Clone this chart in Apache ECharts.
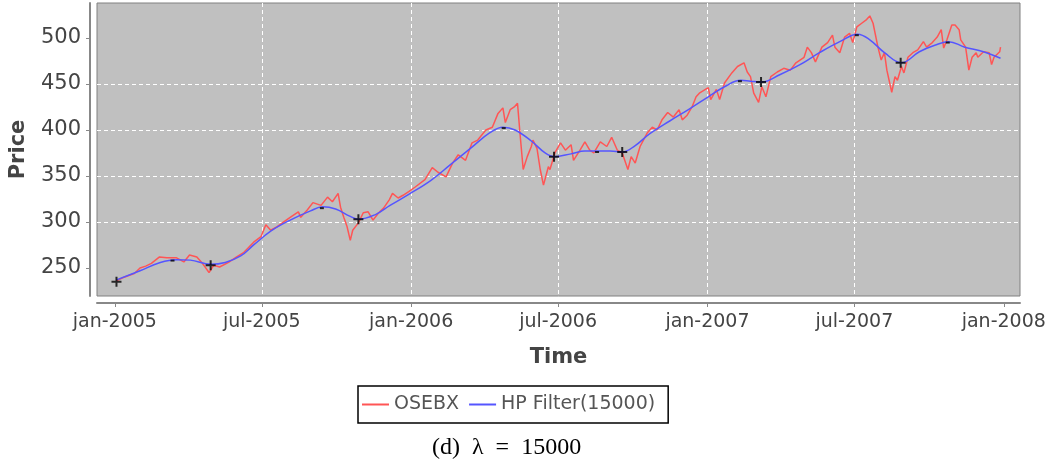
<!DOCTYPE html>
<html>
<head>
<meta charset="utf-8">
<script src="https://cdn.jsdelivr.net/npm/echarts@6.0.0/dist/echarts.min.js"></script>
<style>
  html, body { margin: 0; padding: 0; background: #fff; }
  #chart { width: 1053px; height: 469px; }
</style>
</head>
<body>
<div id="chart"></div>
<script>
// OSEBX closing prices (date, price)
const osebx = [
  ['2005-01-03', 236], ['2005-01-10', 239], ['2005-01-19', 242], ['2005-01-25', 244],
  ['2005-02-01', 250], ['2005-02-08', 252], ['2005-02-15', 255], ['2005-02-25', 262],
  ['2005-03-06', 261], ['2005-03-18', 261], ['2005-03-27', 256.5], ['2005-04-03', 264],
  ['2005-04-12', 262], ['2005-04-18', 256], ['2005-04-27', 245], ['2005-05-03', 253],
  ['2005-05-10', 251], ['2005-05-21', 256], ['2005-05-31', 262], ['2005-06-09', 267],
  ['2005-06-21', 278], ['2005-06-30', 284], ['2005-07-06', 297], ['2005-07-12', 291],
  ['2005-07-20', 295], ['2005-07-28', 300], ['2005-08-05', 305], ['2005-08-15', 311],
  ['2005-08-18', 305], ['2005-08-26', 313], ['2005-09-02', 321], ['2005-09-12', 318],
  ['2005-09-20', 327], ['2005-09-26', 322], ['2005-10-03', 331], ['2005-10-06', 316],
  ['2005-10-10', 305], ['2005-10-14', 295], ['2005-10-18', 280], ['2005-10-21', 291],
  ['2005-10-28', 299], ['2005-11-03', 310], ['2005-11-09', 311], ['2005-11-15', 302],
  ['2005-11-22', 310], ['2005-11-28', 315], ['2005-12-05', 324], ['2005-12-09', 331],
  ['2005-12-16', 326], ['2005-12-22', 329], ['2005-12-29', 333],
  ['2006-01-06', 338], ['2006-01-18', 346], ['2006-01-27', 359], ['2006-02-03', 354],
  ['2006-02-13', 349], ['2006-02-21', 364], ['2006-02-28', 373], ['2006-03-09', 367],
  ['2006-03-17', 386], ['2006-03-24', 389], ['2006-04-03', 400], ['2006-04-11', 403],
  ['2006-04-18', 418], ['2006-04-24', 424], ['2006-04-27', 408], ['2006-05-03', 422],
  ['2006-05-08', 425], ['2006-05-12', 429], ['2006-05-15', 397], ['2006-05-19', 357],
  ['2006-05-24', 371], ['2006-05-29', 382], ['2006-05-31', 389], ['2006-06-05', 380],
  ['2006-06-09', 357], ['2006-06-13', 340], ['2006-06-19', 360], ['2006-06-21', 357],
  ['2006-06-27', 375], ['2006-07-04', 386], ['2006-07-10', 378], ['2006-07-17', 384],
  ['2006-07-20', 367], ['2006-07-28', 378], ['2006-08-03', 387], ['2006-08-09', 378],
  ['2006-08-14', 375], ['2006-08-22', 387], ['2006-08-30', 382], ['2006-09-05', 392],
  ['2006-09-12', 378], ['2006-09-18', 375], ['2006-09-25', 357], ['2006-09-29', 371],
  ['2006-10-04', 364], ['2006-10-10', 382], ['2006-10-19', 397], ['2006-10-25', 403],
  ['2006-10-31', 400], ['2006-11-06', 411], ['2006-11-13', 419], ['2006-11-20', 414],
  ['2006-11-27', 422], ['2006-12-01', 411], ['2006-12-07', 416], ['2006-12-13', 425],
  ['2006-12-18', 436], ['2006-12-22', 440],
  ['2007-01-02', 446], ['2007-01-05', 433], ['2007-01-12', 444], ['2007-01-16', 433],
  ['2007-01-22', 451], ['2007-01-31', 462], ['2007-02-07', 469], ['2007-02-15', 473],
  ['2007-02-19', 463], ['2007-02-23', 458], ['2007-02-27', 440], ['2007-03-05', 430],
  ['2007-03-09', 447], ['2007-03-14', 436], ['2007-03-20', 458], ['2007-03-28', 463],
  ['2007-04-05', 467], ['2007-04-13', 465], ['2007-04-20', 473], ['2007-04-30', 479],
  ['2007-05-04', 490], ['2007-05-09', 484], ['2007-05-14', 474], ['2007-05-22', 490],
  ['2007-05-29', 495], ['2007-06-04', 503], ['2007-06-07', 490], ['2007-06-13', 484],
  ['2007-06-19', 501], ['2007-06-25', 505], ['2007-06-29', 495], ['2007-07-04', 512],
  ['2007-07-10', 516], ['2007-07-16', 520], ['2007-07-20', 524], ['2007-07-24', 516],
  ['2007-07-30', 490], ['2007-08-03', 476], ['2007-08-07', 484], ['2007-08-10', 465],
  ['2007-08-16', 441], ['2007-08-20', 458], ['2007-08-23', 454], ['2007-08-28', 469],
  ['2007-08-31', 462], ['2007-09-05', 479], ['2007-09-11', 484], ['2007-09-17', 487],
  ['2007-09-24', 496], ['2007-09-28', 490], ['2007-10-05', 495], ['2007-10-11', 501],
  ['2007-10-16', 509], ['2007-10-19', 489], ['2007-10-23', 498], ['2007-10-29', 514],
  ['2007-11-02', 514], ['2007-11-07', 509], ['2007-11-09', 498], ['2007-11-15', 490],
  ['2007-11-19', 465], ['2007-11-23', 479], ['2007-11-28', 484], ['2007-11-30', 479],
  ['2007-12-07', 485], ['2007-12-14', 484], ['2007-12-17', 471], ['2007-12-20', 479],
  ['2007-12-27', 485], ['2007-12-28', 490]
];

// HP filter trend (lambda 15000)
const hpFilter = [
  ['2005-01-03', 237], ['2005-02-01', 247], ['2005-02-26', 256], ['2005-03-18', 259],
  ['2005-04-04', 258.5], ['2005-04-29', 254], ['2005-05-17', 256], ['2005-06-05', 263],
  ['2005-06-21', 275], ['2005-07-12', 290], ['2005-08-05', 302], ['2005-08-30', 312],
  ['2005-09-14', 316.5], ['2005-09-30', 314], ['2005-10-18', 306], ['2005-10-28', 303],
  ['2005-11-18', 308], ['2005-12-06', 318], ['2005-12-29', 330], ['2006-01-25', 345],
  ['2006-02-18', 362], ['2006-03-15', 380], ['2006-04-08', 397], ['2006-04-24', 403],
  ['2006-05-09', 400], ['2006-05-29', 388], ['2006-06-15', 375], ['2006-06-26', 371],
  ['2006-07-17', 374], ['2006-08-03', 377], ['2006-08-18', 377], ['2006-09-03', 377],
  ['2006-09-18', 376], ['2006-10-04', 383], ['2006-10-22', 396], ['2006-11-16', 410],
  ['2006-12-10', 423], ['2007-01-02', 436], ['2007-01-22', 447], ['2007-02-11', 454],
  ['2007-02-23', 453], ['2007-03-09', 452], ['2007-03-31', 460], ['2007-04-25', 471],
  ['2007-05-19', 484], ['2007-06-13', 496], ['2007-07-05', 504], ['2007-07-20', 498],
  ['2007-08-07', 484], ['2007-08-28', 473], ['2007-09-19', 485], ['2007-10-08', 492],
  ['2007-10-25', 496], ['2007-11-14', 490], ['2007-12-07', 485], ['2007-12-28', 478]
];

// turning points of the trend: troughs (+) and peaks (-)
const troughs = [
  ['2005-01-03', 235], ['2005-04-29', 253], ['2005-10-28', 303], ['2006-06-26', 371],
  ['2006-09-18', 376], ['2007-03-08', 452], ['2007-08-27', 473]
];
const peaks = [
  ['2005-03-13', 258], ['2005-09-13', 315], ['2006-04-25', 402], ['2006-08-18', 376],
  ['2007-02-10', 453], ['2007-07-04', 503], ['2007-10-24', 495]
];

const yTicks = [250, 300, 350, 400, 450, 500];
const xTicks = ['2005-01-01', '2005-07-01', '2006-01-01', '2006-07-01', '2007-01-01', '2007-07-01', '2008-01-01'];
const months = ['jan', 'feb', 'mar', 'apr', 'mai', 'jun', 'jul', 'aug', 'sep', 'okt', 'nov', 'des'];

function ts(d) { return new Date(d + 'T00:00:00Z').getTime(); }
function toPoints(list) { return list.map(p => [ts(p[0]), p[1]]); }

const xTickTimes = xTicks.map(ts);

const chart = echarts.init(document.getElementById('chart'));

const option = {
  animation: false,
  textStyle: { fontFamily: 'DejaVu Sans' },
  grid: {
    left: 96, right: 33, top: 3, height: 293,
    show: true,
    backgroundColor: '#c0c0c0',
    borderColor: '#808080',
    borderWidth: 1
  },
  legend: {
    data: ['OSEBX', 'HP Filter(15000)'],
    left: 358, top: 386,
    icon: 'rect',
    itemWidth: 27, itemHeight: 2,
    itemGap: 10,
    padding: [9, 13, 9, 4],
    borderColor: '#000',
    borderWidth: 1.5,
    textStyle: { color: '#555', fontSize: 19, fontFamily: 'DejaVu Sans' }
  },
  xAxis: {
    type: 'value',
    min: ts('2004-12-10'),
    max: ts('2008-01-21'),
    offset: 7,
    name: 'Time',
    nameLocation: 'middle',
    nameGap: 44,
    nameTextStyle: { fontSize: 21, fontWeight: 'bold', color: '#444' },
    axisLine: { lineStyle: { color: '#888', width: 2 } },
    axisTick: { customValues: xTickTimes, length: 4, lineStyle: { color: '#888' } },
    axisLabel: {
      customValues: xTickTimes,
      margin: 10,
      fontSize: 19,
      color: '#444',
      formatter: function (v) {
        const d = new Date(v);
        return months[d.getUTCMonth()] + '-' + d.getUTCFullYear();
      }
    },
    splitLine: {
      show: true,
      customValues: xTickTimes,
      showMinLine: false, showMaxLine: false,
      lineStyle: { color: '#fff', type: [4, 3], width: 1 }
    }
  },
  yAxis: {
    type: 'value',
    min: 219.5, max: 538,
    offset: 7,
    name: 'Price',
    nameLocation: 'middle',
    nameGap: 61,
    nameTextStyle: { fontSize: 21, fontWeight: 'bold', color: '#444' },
    axisLine: { show: true, lineStyle: { color: '#888', width: 2 } },
    axisTick: { show: true, customValues: yTicks, length: 4, lineStyle: { color: '#888' } },
    axisLabel: { customValues: yTicks, margin: 9, fontSize: 21, color: '#444' },
    splitLine: {
      show: true,
      showMinLine: false, showMaxLine: false,
      lineStyle: { color: '#fff', type: [4, 3], width: 1 }
    }
  },
  series: [
    {
      name: 'OSEBX',
      type: 'line',
      data: toPoints(osebx),
      showSymbol: false,
      lineStyle: { color: '#ff5555', width: 1.5 },
      itemStyle: { color: '#ff5555' },
      z: 2
    },
    {
      name: 'HP Filter(15000)',
      type: 'line',
      data: toPoints(hpFilter),
      smooth: 0.4,
      showSymbol: false,
      lineStyle: { color: '#5555ff', width: 1.5 },
      itemStyle: { color: '#5555ff' },
      z: 3
    },
    {
      name: 'troughs',
      type: 'scatter',
      data: toPoints(troughs),
      symbol: 'path://M3.6,0H5.4V3.6H9V5.4H5.4V9H3.6V5.4H0V3.6H3.6Z',
      symbolSize: 10,
      itemStyle: { color: '#000' },
      z: 4
    },
    {
      name: 'peaks',
      type: 'scatter',
      data: toPoints(peaks),
      symbol: 'rect',
      symbolSize: [4, 2],
      itemStyle: { color: '#000' },
      z: 4
    }
  ],
  graphic: [
    {
      type: 'text',
      left: 432, top: 436,
      style: {
        text: '(d)  λ  =  15000',
        font: '24px "Liberation Serif"',
        fill: '#000'
      }
    }
  ]
};

chart.setOption(option);
</script>
</body>
</html>
